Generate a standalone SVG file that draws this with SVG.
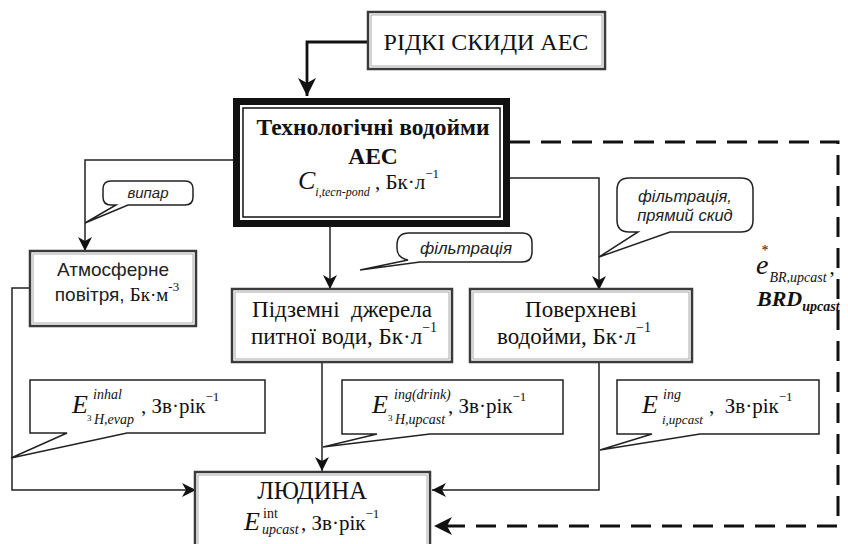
<svg xmlns="http://www.w3.org/2000/svg" width="848" height="544" viewBox="0 0 848 544">
<style>
.bg{fill:#fff}
.box{fill:#fff;stroke:#3a3a3a;stroke-width:2.5}
.inner{fill:none;stroke:#aaa;stroke-width:1}
.conn{fill:none;stroke:#222;stroke-width:1.5}
.thick{fill:none;stroke:#111;stroke-width:2.8}
.dash{fill:none;stroke:#111;stroke-width:3;stroke-dasharray:20 11}
.bub{fill:#fff;stroke:#222;stroke-width:1.5}
.serif{font-family:"Liberation Serif","Times New Roman",serif;fill:#111}
.sans{font-family:"Liberation Sans",Arial,sans-serif;fill:#222}
.it{font-style:italic}
.b{font-weight:bold}
</style>
<defs>
<marker id="ah" markerUnits="userSpaceOnUse" markerWidth="16" markerHeight="14" refX="14" refY="7" orient="auto">
<path d="M0,0 L14,7 L0,14 L4,7 Z" fill="#111"/>
</marker>
<marker id="ahb" markerUnits="userSpaceOnUse" markerWidth="20" markerHeight="18" refX="18" refY="9" orient="auto">
<path d="M0,0 L18,9 L0,18 L5,9 Z" fill="#111"/>
</marker>
</defs>
<rect class="bg" x="0" y="0" width="848" height="544"/>

<g id="connectors">
<path class="thick" d="M368,42 H307 V96" marker-end="url(#ahb)"/>
<path class="conn" d="M233,160 H85 V251" marker-end="url(#ah)"/>
<path class="conn" d="M330,227 V289" marker-end="url(#ah)"/>
<path class="conn" d="M510,178 H599 V290" marker-end="url(#ah)"/>
<path class="dash" d="M510,142 H838 V526 H434" marker-end="url(#ahb)"/>
<path class="conn" d="M30,288 H12 V490 H196" marker-end="url(#ah)"/>
<path class="conn" d="M322,362 V471" marker-end="url(#ah)"/>
<path class="conn" d="M599,362 V490 H432" marker-end="url(#ah)"/>
</g>

<g id="ridki">
<rect class="box" x="368" y="12" width="237" height="57"/>
<rect class="inner" x="371" y="15" width="231" height="51"/>
<text class="serif" x="486" y="50" font-size="24" text-anchor="middle">РІДКІ СКИДИ АЕС</text>
</g>

<g id="tech">
<rect x="236.5" y="101.5" width="270" height="122" fill="#fff" stroke="#111" stroke-width="7"/>
<rect x="243" y="108" width="257" height="109" fill="none" stroke="#111" stroke-width="1.5"/>
<text class="serif b" x="373" y="135" font-size="23.5" text-anchor="middle">Технологічні водойми</text>
<text class="serif b" x="373" y="164" font-size="23.5" text-anchor="middle">АЕС</text>
<text class="serif" x="298" y="189" font-size="21"><tspan class="it" font-size="26">C</tspan><tspan class="it" font-size="12" dy="7">i,tecn-pond</tspan><tspan dy="-7"> , Бк·л</tspan><tspan font-size="13" dy="-11">−1</tspan></text>
</g>

<g id="vypar">
<path class="bub" d="M111,181 H185 Q193,181 193,189 V197 Q193,205 185,205 H128 L85,223 L116,205 H111 Q103,205 103,197 V189 Q103,181 111,181 Z"/>
<text class="sans it" x="148" y="198" font-size="15" text-anchor="middle">випар</text>
</g>

<g id="atm">
<rect class="box" x="30" y="251" width="166" height="75"/>
<rect class="inner" x="33" y="254" width="160" height="69"/>
<text class="sans" x="113" y="276" font-size="19" text-anchor="middle">Атмосферне</text>
<text x="117" y="301" font-size="19" text-anchor="middle"><tspan class="sans">повітря, </tspan><tspan class="serif">Бк·м</tspan><tspan class="serif" font-size="13" dy="-10">-3</tspan></text>
</g>

<g id="filtr">
<path class="bub" d="M409,233 H522 Q532,233 532,243 V252 Q532,262 522,262 H420 L360,270 L408,260 Q397,258 397,248 V245 Q397,233 409,233 Z"/>
<text class="sans it" x="466" y="254" font-size="17" text-anchor="middle">фільтрація</text>
</g>

<g id="filtr2">
<path class="bub" d="M629,178 H741 Q753,178 753,190 V220 Q753,232 741,232 H670 L599,257 L638,232 H629 Q617,232 617,220 V190 Q617,178 629,178 Z"/>
<text class="sans it" x="685" y="202" font-size="16.5" text-anchor="middle">фільтрація,</text>
<text class="sans it" x="685" y="221" font-size="16.5" text-anchor="middle">прямий скид</text>
</g>

<g id="pidzemni">
<rect class="box" x="232" y="289" width="220" height="73"/>
<rect class="inner" x="235" y="292" width="214" height="67"/>
<text class="serif" x="342" y="317" font-size="23" text-anchor="middle" xml:space="preserve">Підземні  джерела</text>
<text class="serif" x="344" y="344" font-size="23" text-anchor="middle">питної води, Бк·л<tspan font-size="14" dy="-12">−1</tspan></text>
</g>

<g id="poverkhnevi">
<rect class="box" x="470" y="289" width="222" height="73"/>
<rect class="inner" x="473" y="292" width="216" height="67"/>
<text class="serif" x="581" y="317" font-size="23" text-anchor="middle">Поверхневі</text>
<text class="serif" x="574" y="344" font-size="23" text-anchor="middle">водойми, Бк·л<tspan font-size="14" dy="-12">−1</tspan></text>
</g>

<g id="e-inhal">
<path class="bub" d="M30,380 H265 V433 H127 L11,458 L67,433 H30 Z"/>
<text class="serif it" x="72" y="413" font-size="26">E</text>
<text class="serif it" x="93" y="399" font-size="14">inhal</text>
<text class="serif" x="87" y="421" font-size="9">3</text>
<text class="serif it" x="94" y="424" font-size="14">H,evap</text>
<text class="serif" x="141" y="413" font-size="21">, Зв·рік<tspan font-size="13" dy="-12">−1</tspan></text>
</g>

<g id="e-ing-drink">
<path class="bub" d="M342,380 H563 V434 H430 L323,447 L377,434 H342 Z"/>
<text class="serif it" x="372" y="413" font-size="26">E</text>
<text class="serif it" x="394" y="399" font-size="14">ing(drink)</text>
<text class="serif" x="388" y="421" font-size="9">3</text>
<text class="serif it" x="395" y="424" font-size="14">H,upcast</text>
<text class="serif" x="448" y="413" font-size="21">, Зв·рік<tspan font-size="13" dy="-12">−1</tspan></text>
</g>

<g id="e-ing">
<path class="bub" d="M617,380 H819 V434 H700 L600,450 L652,434 H617 Z"/>
<text class="serif it" x="642" y="413" font-size="26">E</text>
<text class="serif it" x="663" y="399" font-size="14">ing</text>
<text class="serif it" x="662" y="424" font-size="13">i,upcast</text>
<text class="serif" x="709" y="413" font-size="21" xml:space="preserve">,  Зв·рік<tspan font-size="13" dy="-12">−1</tspan></text>
</g>

<g id="ludyna">
<rect class="box" x="195" y="472" width="235" height="100"/>
<rect class="inner" x="198" y="475" width="229" height="94"/>
<text class="serif" x="312" y="499" font-size="24.5" text-anchor="middle">ЛЮДИНА</text>
<text class="serif it" x="244" y="530" font-size="26">E</text>
<text class="serif" x="263" y="518" font-size="14">int</text>
<text class="serif it" x="262" y="534" font-size="14">upcast</text>
<text class="serif" x="301" y="530" font-size="21">, Зв·рік<tspan font-size="13" dy="-12">−1</tspan></text>
</g>

<g id="brd">
<text class="serif" x="756" y="274" font-size="28"><tspan class="it">e</tspan><tspan font-size="14" dx="-7" dy="-19">*</tspan><tspan class="it" font-size="14" dx="1" dy="27">BR,upcast</tspan><tspan font-size="21" dx="3" dy="-8">,</tspan></text>
<text class="serif it b" x="757" y="306" font-size="22">BRD<tspan font-size="14" dy="5">upcast</tspan></text>
</g>
</svg>
